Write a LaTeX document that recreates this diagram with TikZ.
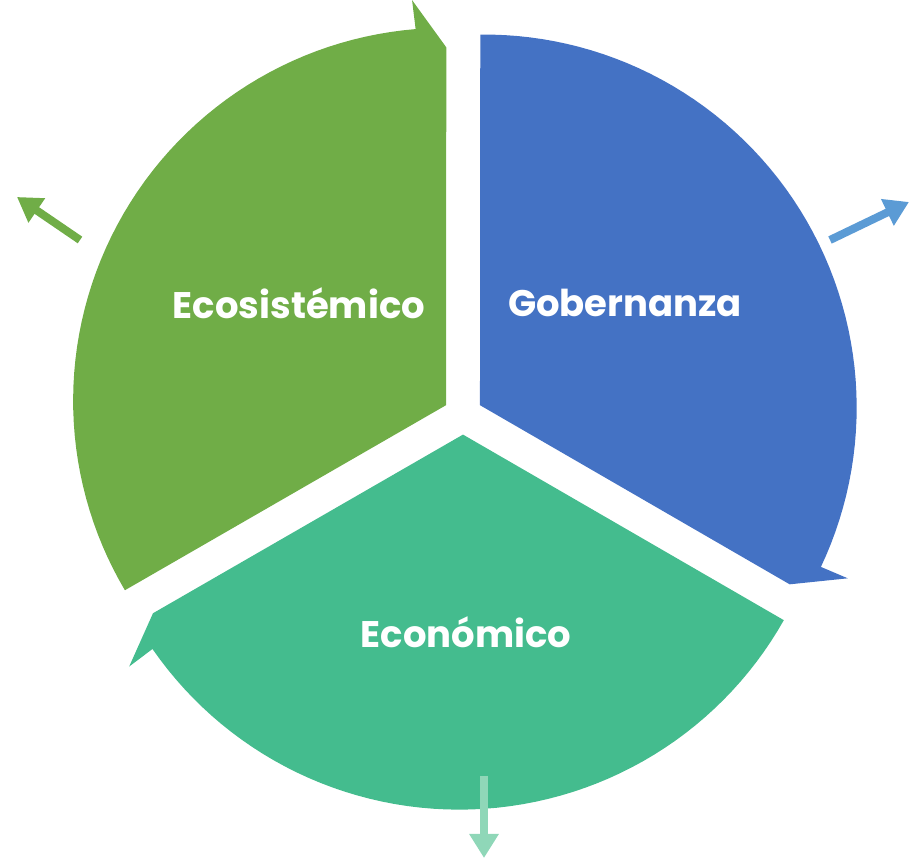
\documentclass[tikz,border=0pt]{standalone}
\usepackage{fontspec}
\setmainfont{Poppins}
\usetikzlibrary{arrows.meta, calc}
\definecolor{ecoGreen}{HTML}{70AD47}
\definecolor{govBlue}{HTML}{4472C4}
\definecolor{econGreen}{HTML}{44BC8E}
\definecolor{skyBlue}{HTML}{5B9BD5}
\definecolor{mintGreen}{HTML}{8FD7B8}
\tikzset{
	segtext/.style={
		text=white,
		font=\fontsize{37}{44}\selectfont\bfseries,
		inner sep=0pt
	},
	outarrow/.style={
		line width=8pt,
		-{Triangle[length=24pt, width=28pt]}
	}
}
% one segment of the cycle: #1 = clockwise end (gap angle), #2 = colour
\newcommand{\cyclepart}[2]{%
	\fill[#2] ($(ctr)+(#1+60:19.6)$)
		-- plot[domain=#1+117.4:#1+7, samples=60]
			({463+(372+23*cos(\x-#1-50))*cos(\x)}, {443+(372+23*cos(\x-#1-50))*sin(\x)})
		-- ($(ctr)+(#1+7:418)$) -- ($(ctr)+(#1+2.6:368)$) -- cycle;
}

\begin{document}
\begin{tikzpicture}[x=1pt, y=1pt]
	\useasboundingbox (0,0) rectangle (910,858);
	\coordinate (ctr) at (463,443);

	\cyclepart{90}{ecoGreen}
	\cyclepart{-30}{govBlue}
	\cyclepart{210}{econGreen}

	\node (eco) [segtext] at (299,555) {Ecosistémico};
	\node (gov) [segtext] at (625,555) {Gobernanza};
	\node (econ) [segtext] at (466,226) {Económico};

	\coordinate (ecoTail) at (80,618);
	\coordinate (ecoHead) at (17,661);
	\coordinate (govTail) at (830,618);
	\coordinate (govHead) at (909,656);
	\coordinate (econTail) at (484,82);
	\coordinate (econHead) at (484,0);

	\draw [outarrow, ecoGreen] (ecoTail) -- (ecoHead);
	\draw [outarrow, skyBlue] (govTail) -- (govHead);
	\draw [outarrow, mintGreen] (econTail) -- (econHead);
\end{tikzpicture}
\end{document}
